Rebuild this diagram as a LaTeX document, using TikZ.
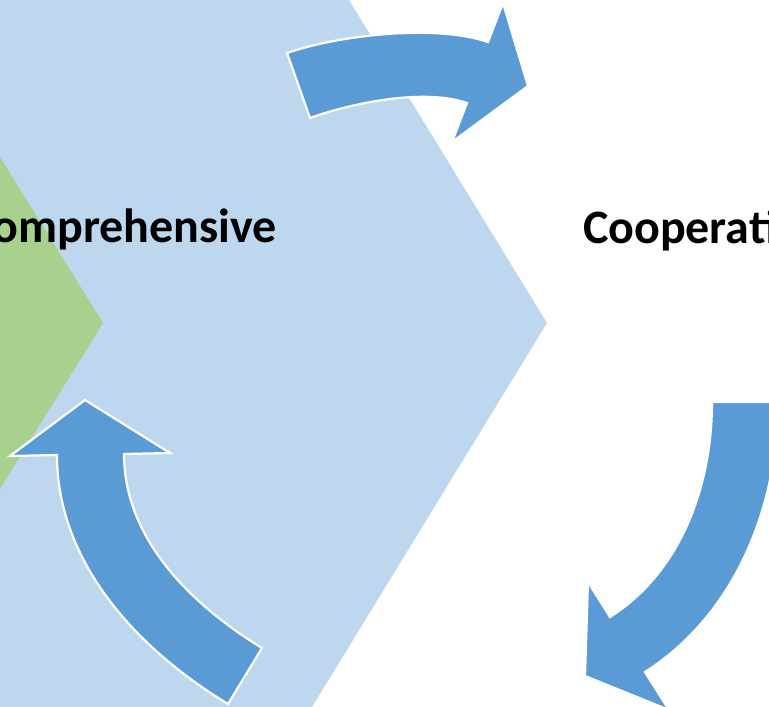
\documentclass[tikz,border=0pt]{standalone}
\usepackage{fontspec}
\setmainfont{Carlito}
\definecolor{chevblue}{HTML}{BDD7EE}
\definecolor{chevgreen}{HTML}{A9D18E}
\definecolor{arrowblue}{HTML}{5B9BD5}

\begin{document}
\begin{tikzpicture}[x=1pt,y=-1pt,
  cyclearrow/.style={fill=arrowblue, draw=white, line width=2.2pt, line join=miter},
  every node/.style={inner sep=0pt, outer sep=0pt, font=\fontsize{48}{58}\selectfont\bfseries}]
\useasboundingbox (0,0) rectangle (769,707);
\clip (0,0) rectangle (769,707);

\fill[chevblue] (-100,0) -- (349,0) -- (547,323) -- (312,707) -- (-100,707) -- cycle;
\fill[chevgreen] (-100,157) -- (0,157) -- (103,323) -- (0,489) -- (-100,489) -- cycle;

\draw[cyclearrow] (287,53) .. controls (339,35) and (436,24) .. (488,42) -- (503,3) -- (528,86)
  -- (452,142) -- (467,103) .. controls (424,88) and (352,103) .. (310,118) -- cycle;
\draw[cyclearrow] (228,704) .. controls (136.5,648.5) and (57,562) .. (57,455) -- (10,456) -- (85,400)
  -- (170,453) -- (124,454) .. controls (124,538) and (190,604) .. (262,648) -- cycle;
\draw[cyclearrow] (778,402) .. controls (778,508) and (734.5,615) .. (645,672) -- (669,710) -- (585,676)
  -- (588,582) -- (610,617) .. controls (681,572) and (712,486) .. (712,402) -- cycle;

\node[anchor=base east] (comp) at (277,242) {omprehensive};
\node[anchor=base west] (coop) at (583,243) {Cooperati};
\end{tikzpicture}
\end{document}
